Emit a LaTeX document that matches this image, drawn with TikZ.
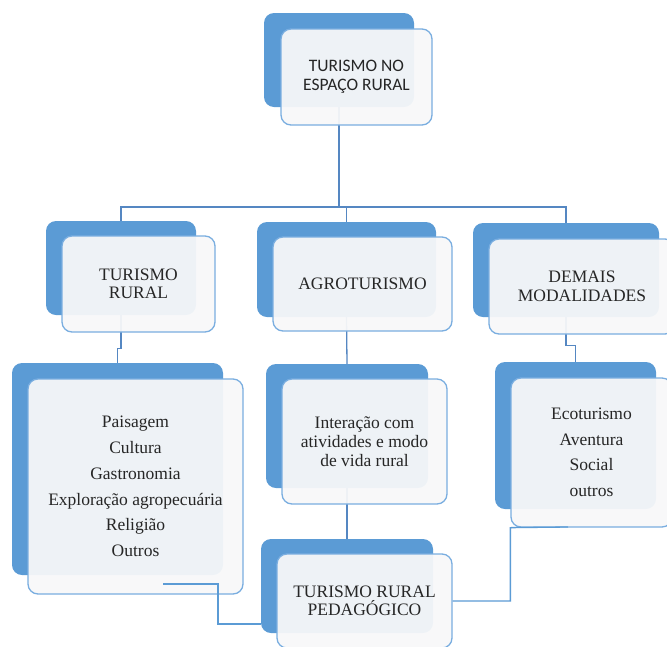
\documentclass[tikz,border=0pt]{standalone}
\usepackage{fontspec}
\setmainfont{Liberation Serif}
\newfontfamily\calib{Carlito}
\usetikzlibrary{calc}
\definecolor{backblue}{HTML}{5B9BD5}
\definecolor{frontline}{HTML}{7AAEE0}
\definecolor{frontfill}{HTML}{F8F8F9}
\definecolor{treeline}{HTML}{5587C2}
\definecolor{handline}{HTML}{5B9BD5}
\definecolor{txt}{HTML}{262626}
\begin{document}
\begin{tikzpicture}[x=1pt,y=-1pt,
  backbox/.style={rectangle, rounded corners=10pt, fill=backblue, draw=none, inner sep=0pt},
  frontbox/.style={rectangle, rounded corners=10pt, fill=frontfill, fill opacity=0.94, text opacity=1,
                   draw=frontline, line width=1.3pt, inner sep=0pt, align=center, text=txt},
  tree/.style={draw=treeline, line width=1.3pt},
  hand/.style={draw=handline, line width=1.3pt},
  lvl/.style={font=\fontsize{17.5}{18.5}\selectfont},
  lst/.style={font=\fontsize{17.5}{25.8}\selectfont}]
\useasboundingbox (0,0) rectangle (667,646);
\fill[white] (0,0) rectangle (667,646);
\clip (0,0) rectangle (667,646);

% back boxes
\node[backbox, minimum width=150pt, minimum height=94pt] (tb) at (339,60) {};
\node[backbox, minimum width=150pt, minimum height=94pt] (trb) at (121,268) {};
\node[backbox, minimum width=179pt, minimum height=95pt] (agb) at (346.5,269.5) {};
\node[backbox, minimum width=186pt, minimum height=94pt] (dmb) at (566,270) {};
\node[backbox, minimum width=211pt, minimum height=212pt] (lb) at (117.5,469) {};
\node[backbox, minimum width=162pt, minimum height=124pt] (mb) at (347,426) {};
\node[backbox, minimum width=161pt, minimum height=147pt] (rb) at (575.5,435.5) {};
\node[backbox, minimum width=172pt, minimum height=94pt] (pb) at (347,586) {};

% tree connectors
\coordinate (bus) at (339,207);
\draw[tree] (tb.south) -- (bus);
\draw[tree] (trb.north) |- (bus) -| (dmb.north);
\draw[tree] (agb.north) -- (agb.north |- bus);
\draw[tree] (trb.south) -- ++(0,33) -| (lb.north);
\draw[tree] (agb.south) -- (mb.north);
\draw[tree] (dmb.south) -- ++(0,28) -| (rb.north);
\draw[tree] (mb.south) -- (pb.north);

% front boxes
\node[frontbox, minimum width=151pt, minimum height=96pt, font=\calib\fontsize{17.5}{19}\selectfont] (tf) at (356.5,77) {TURISMO NO\\ESPAÇO RURAL};
\node[frontbox, lvl, minimum width=153pt, minimum height=96pt] (trf) at (138.5,284) {TURISMO\\RURAL};
\node[frontbox, lvl, minimum width=179pt, minimum height=94pt] (agf) at (362.5,284) {AGROTURISMO};
\node[frontbox, lvl, minimum width=186pt, minimum height=95pt] (dmf) at (582,286.5) {DEMAIS\\MODALIDADES};
\node[frontbox, lst, minimum width=215pt, minimum height=215pt] (lf) at (135.5,486.5) {Paisagem\\Cultura\\Gastronomia\\Exploração agropecuária\\Religião\\Outros};
\node[frontbox, font=\fontsize{17.5}{19}\selectfont, minimum width=165pt, minimum height=125pt] (mf) at (364.5,441.5) {Interação com\\atividades e modo\\de vida rural};
\node[frontbox, font=\fontsize{17.5}{25.5}\selectfont, minimum width=161pt, minimum height=149pt] (rf) at (591.5,452.5) {Ecoturismo\\Aventura\\Social\\outros};
\node[frontbox, lvl, minimum width=175pt, minimum height=94pt] (pf) at (364.5,601) {TURISMO RURAL\\PEDAGÓGICO};

% hand-drawn connectors
\coordinate (c1) at (163,584);
\coordinate (c1j) at (218,624);
\draw[hand] (c1) -| (c1j) -- (pb.west |- c1j);
\coordinate (c2) at (568,527);
\draw[hand] (pf.east) -| (rf.south west) -- (c2);
\end{tikzpicture}
\end{document}
